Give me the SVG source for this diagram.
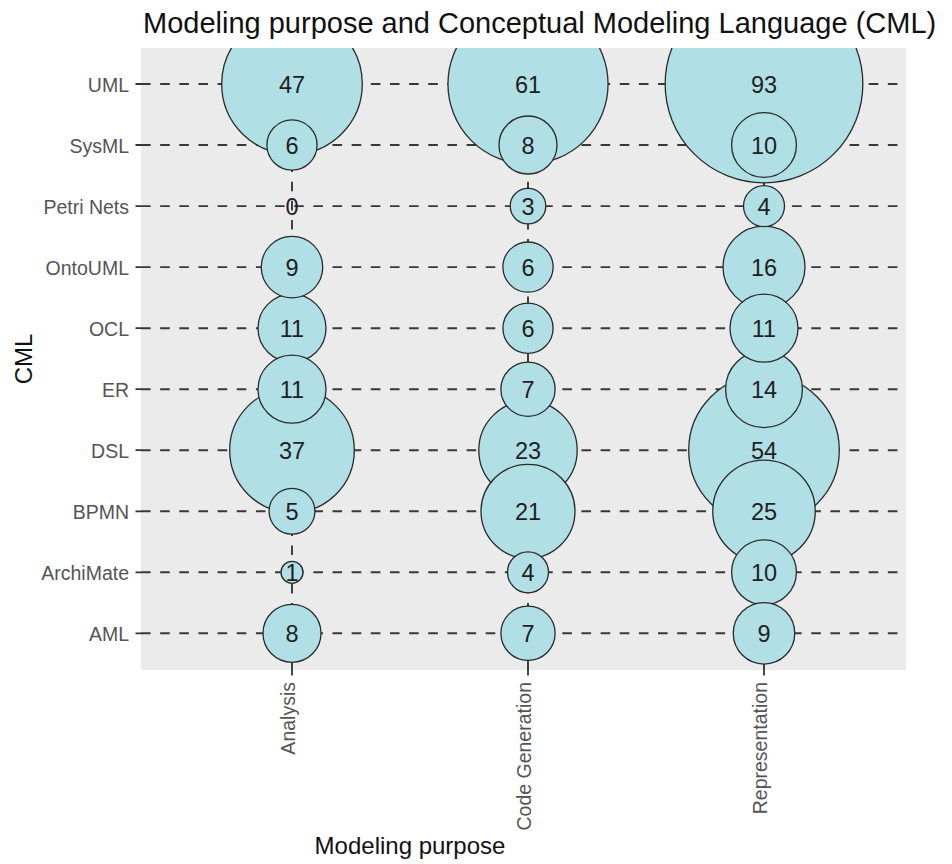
<svg xmlns="http://www.w3.org/2000/svg" width="952" height="864" viewBox="0 0 952 864">
<defs>
<clipPath id="panel"><rect x="141" y="48" width="765" height="622"/></clipPath>
<style>
.bg{fill:#EBEBEB}
.hg{stroke:#383838;stroke-width:1.9;stroke-dasharray:9.6 9.55;fill:none}
.tick{stroke:#333;stroke-width:1.8}
.b circle{fill:#B0E0E6;stroke:#2a2a2a;stroke-width:1.3}
.b text{font-family:"Liberation Sans",Arial,sans-serif;font-size:23.5px;fill:#1f1f1f;text-anchor:middle}
.yl{font-family:"Liberation Sans",Arial,sans-serif;font-size:19.5px;fill:#555;text-anchor:end}
.xl{font-family:"Liberation Sans",Arial,sans-serif;font-size:19.5px;fill:#555;text-anchor:end}
.at{font-family:"Liberation Sans",Arial,sans-serif;font-size:24px;fill:#111;text-anchor:middle}
.tt{font-family:"Liberation Sans",Arial,sans-serif;font-size:29px;fill:#111}
</style>
</defs>
<rect width="952" height="864" fill="#fff"/>
<text class="tt" x="143" y="33">Modeling purpose and Conceptual Modeling Language (CML)</text>
<rect class="bg" x="141" y="48" width="765" height="622"/>
<g id="connectors">
<path class="hg" d="M141 84H906M141 145H906M141 206.1H906M141 267.1H906M141 328.2H906M141 389.2H906M141 450.2H906M141 511.3H906M141 572.3H906M141 633.3H906"/>
<path class="hg" d="M292 670V48M528 670V48M764 670V48"/>
</g>
<g id="axes">
<path class="tick" d="M135.5 84H141M135.5 145H141M135.5 206.1H141M135.5 267.1H141M135.5 328.2H141M135.5 389.2H141M135.5 450.2H141M135.5 511.3H141M135.5 572.3H141M135.5 633.3H141M292 670V675.5M528 670V675.5M764 670V675.5"/>
<text class="yl" x="129" y="92">UML</text>
<text class="yl" x="129" y="153">SysML</text>
<text class="yl" x="129" y="214.1">Petri Nets</text>
<text class="yl" x="129" y="275.1">OntoUML</text>
<text class="yl" x="129" y="336.2">OCL</text>
<text class="yl" x="129" y="397.2">ER</text>
<text class="yl" x="129" y="458.2">DSL</text>
<text class="yl" x="129" y="519.3">BPMN</text>
<text class="yl" x="129" y="580.3">ArchiMate</text>
<text class="yl" x="129" y="641.3">AML</text>
<text class="xl" transform="translate(295,682) rotate(-90)">Analysis</text>
<text class="xl" transform="translate(531,682) rotate(-90)">Code Generation</text>
<text class="xl" transform="translate(767,682) rotate(-90)">Representation</text>
<text class="at" x="410" y="854">Modeling purpose</text>
<text class="at" transform="translate(32,359) rotate(-90)">CML</text>
</g>
<g id="bubbles" clip-path="url(#panel)">
<g id="rep-uml" class="b"><circle cx="764" cy="84" r="98.85"/><text x="764" y="92.5">93</text></g>
<g id="cg-uml" class="b"><circle cx="528" cy="84" r="80.05"/><text x="528" y="92.5">61</text></g>
<g id="rep-dsl" class="b"><circle cx="764" cy="450.2" r="75.3"/><text x="764" y="458.7">54</text></g>
<g id="an-uml" class="b"><circle cx="292" cy="84" r="70.3"/><text x="292" y="92.5">47</text></g>
<g id="an-dsl" class="b"><circle cx="292" cy="450.2" r="62.3"/><text x="292" y="458.7">37</text></g>
<g id="rep-bpmn" class="b"><circle cx="764" cy="511.3" r="51.25"/><text x="764" y="519.8">25</text></g>
<g id="cg-dsl" class="b"><circle cx="528" cy="450.2" r="49.2"/><text x="528" y="458.7">23</text></g>
<g id="cg-bpmn" class="b"><circle cx="528" cy="511.3" r="47"/><text x="528" y="519.8">21</text></g>
<g id="rep-ontouml" class="b"><circle cx="764" cy="267.1" r="41"/><text x="764" y="275.6">16</text></g>
<g id="rep-er" class="b"><circle cx="764" cy="389.2" r="38.4"/><text x="764" y="397.7">14</text></g>
<g id="an-ocl" class="b"><circle cx="292" cy="328.2" r="34"/><text x="292" y="336.7">11</text></g>
<g id="an-er" class="b"><circle cx="292" cy="389.2" r="34"/><text x="292" y="397.7">11</text></g>
<g id="rep-ocl" class="b"><circle cx="764" cy="328.2" r="34"/><text x="764" y="336.7">11</text></g>
<g id="rep-sysml" class="b"><circle cx="764" cy="145" r="32.4"/><text x="764" y="153.5">10</text></g>
<g id="rep-archimate" class="b"><circle cx="764" cy="572.3" r="32.4"/><text x="764" y="580.8">10</text></g>
<g id="an-ontouml" class="b"><circle cx="292" cy="267.1" r="30.75"/><text x="292" y="275.6">9</text></g>
<g id="rep-aml" class="b"><circle cx="764" cy="633.3" r="30.75"/><text x="764" y="641.8">9</text></g>
<g id="an-aml" class="b"><circle cx="292" cy="633.3" r="29"/><text x="292" y="641.8">8</text></g>
<g id="cg-sysml" class="b"><circle cx="528" cy="145" r="29"/><text x="528" y="153.5">8</text></g>
<g id="cg-er" class="b"><circle cx="528" cy="389.2" r="27.1"/><text x="528" y="397.7">7</text></g>
<g id="cg-aml" class="b"><circle cx="528" cy="633.3" r="27.1"/><text x="528" y="641.8">7</text></g>
<g id="an-sysml" class="b"><circle cx="292" cy="145" r="25.1"/><text x="292" y="153.5">6</text></g>
<g id="cg-ontouml" class="b"><circle cx="528" cy="267.1" r="25.1"/><text x="528" y="275.6">6</text></g>
<g id="cg-ocl" class="b"><circle cx="528" cy="328.2" r="25.1"/><text x="528" y="336.7">6</text></g>
<g id="an-bpmn" class="b"><circle cx="292" cy="511.3" r="22.9"/><text x="292" y="519.8">5</text></g>
<g id="cg-archimate" class="b"><circle cx="528" cy="572.3" r="20.5"/><text x="528" y="580.8">4</text></g>
<g id="rep-petri" class="b"><circle cx="764" cy="206.1" r="20.5"/><text x="764" y="214.6">4</text></g>
<g id="cg-petri" class="b"><circle cx="528" cy="206.1" r="17.8"/><text x="528" y="214.6">3</text></g>
<g id="an-archimate" class="b"><circle cx="292" cy="572.3" r="11"/><text x="292" y="580.8">1</text></g>
<g id="an-petri" class="b"><text x="292" y="214.6">0</text></g>
</g>
</svg>
